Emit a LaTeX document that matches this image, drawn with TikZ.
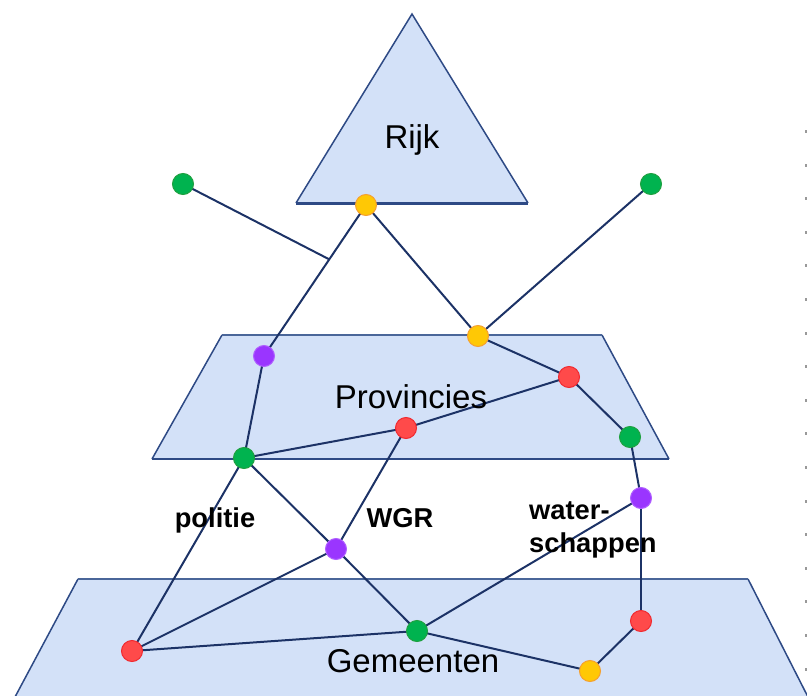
\documentclass[tikz,border=0pt]{standalone}
\usepackage{fontspec}
\setmainfont{Liberation Sans}
\usetikzlibrary{calc}
\definecolor{plane}{HTML}{D3E1F8}
\definecolor{rim}{HTML}{2E4A85}
\definecolor{rimlight}{HTML}{4A6699}
\definecolor{link}{HTML}{1C3266}
\definecolor{cgreen}{HTML}{00B34F}
\definecolor{cgreenrim}{HTML}{1FA040}
\definecolor{cyellow}{HTML}{FFC805}
\definecolor{cyellowrim}{HTML}{F5A030}
\definecolor{cred}{HTML}{FF4A4A}
\definecolor{credrim}{HTML}{F02A30}
\definecolor{cpurple}{HTML}{9A35FF}
\definecolor{cpurplerim}{HTML}{B060FF}
\pgfdeclarelayer{planes}
\pgfdeclarelayer{links}
\pgfsetlayers{planes,links,main}
\tikzset{
  layer/.style={fill=plane},
  side/.style={draw=rim, line width=1.5pt},
  rimline/.style={draw=rim, line width=2.6pt},
  edge/.style={draw=link, line width=2pt},
  dot/.style={circle, minimum size=21pt, inner sep=0pt, line width=1pt},
  gdot/.style={dot, fill=cgreen, draw=cgreenrim},
  ydot/.style={dot, fill=cyellow, draw=cyellowrim},
  rdot/.style={dot, fill=cred, draw=credrim},
  pdot/.style={dot, fill=cpurple, draw=cpurplerim},
  levellabel/.style={font=\fontsize{33}{36}\selectfont, anchor=base, inner sep=0pt},
  tielabel/.style={font=\fontsize{27.3}{30}\selectfont\bfseries, inner sep=0pt},
}
\begin{document}
\begin{tikzpicture}[x=1pt, y=-1pt]
\useasboundingbox (0,0) rectangle (807,696);

% government levels
\begin{pgfonlayer}{planes}
% Rijk
\fill[layer] (412,14) -- (528,203) -- (296,203) -- cycle;
\draw[side] (296,203) -- (412,14) -- (528,203);
\draw[rimline, line width=3pt] (296,203) -- (528,203);
% Provincies
\fill[layer] (222,335) -- (602,335) -- (669,459) -- (152,459) -- cycle;
\draw[side] (152,459) -- (222,335);
\draw[side] (602,335) -- (669,459);
\draw[rimline, draw=rimlight] (222,335) -- (602,335);
\draw[rimline] (152,459) -- (669,459);
% Gemeenten
\fill[layer] (15,697) -- (78,579) -- (748,579) -- (808,697) -- cycle;
\draw[side] (15,697) -- (78,579);
\draw[side] (748,579) -- (808,697);
\draw[rimline, draw=rimlight, line width=2pt] (78,579) -- (748,579);
% small marks along the right margin
\foreach \k in {0,...,16}
  \fill[gray!80] (805.2,{130+33.6*\k}) rectangle (806.8,{133+33.6*\k});
\end{pgfonlayer}

% level names
\node[levellabel] (rijk) at (412,148) {Rijk};
\node[levellabel] (prov) at (411,408) {Provincies};
\node[levellabel] (gem) at (413,672) {Gemeenten};

% actors
\node[gdot] (G1) at (183,184) {};
\node[gdot] (G2) at (651,184) {};
\node[ydot] (Y1) at (366,205) {};
\node[ydot] (Y2) at (478,336) {};
\node[pdot] (P1) at (264,356) {};
\node[rdot] (R1) at (569,377) {};
\node[rdot] (R2) at (406,428) {};
\node[gdot] (G3) at (630,437) {};
\node[gdot] (G4) at (244,458) {};
\node[pdot] (P3) at (641,498) {};
\node[pdot] (P2) at (336,549) {};
\node[rdot] (R4) at (641,621) {};
\node[gdot] (G5) at (417,631) {};
\node[rdot] (R3) at (132,651) {};
\node[ydot] (Y3) at (590,671) {};
\coordinate (J) at ($(Y1.center)!0.36!(P1.center)$);

% relations
\begin{pgfonlayer}{links}
\path[edge] (G1.center) -- (J);
\path[edge] (Y1.center) -- (P1.center);
\path[edge] (Y1.center) -- (Y2.center);
\path[edge] (G2.center) -- (Y2.center);
\path[edge] (Y2.center) -- (R1.center);
\path[edge] (R1.center) -- (G3.center);
\path[edge] (R1.center) -- (R2.center);
\path[edge] (R2.center) -- (G4.center);
\path[edge] (P1.center) -- (G4.center);
\path[edge] (G4.center) -- (R3.center);
\path[edge] (G4.center) -- (P2.center);
\path[edge] (R2.center) -- (P2.center);
\path[edge] (P2.center) -- (G5.center);
\path[edge] (P2.center) -- (R3.center);
\path[edge] (R3.center) -- (G5.center);
\path[edge] (G3.center) -- (P3.center);
\path[edge] (P3.center) -- (G5.center);
\path[edge] (P3.center) -- (R4.center);
\path[edge] (R4.center) -- (Y3.center);
\path[edge] (G5.center) -- (Y3.center);
\end{pgfonlayer}

% labels of the cooperation forms
\node[tielabel, anchor=base] (politie) at (215,527) {politie};
\node[tielabel, anchor=base] (wgr) at (400,527) {WGR};
\node[tielabel, anchor=base west] (water) at (529,519) {water-};
\node[tielabel, anchor=base west] (schap) at (529,552) {schappen};
\end{tikzpicture}
\end{document}
